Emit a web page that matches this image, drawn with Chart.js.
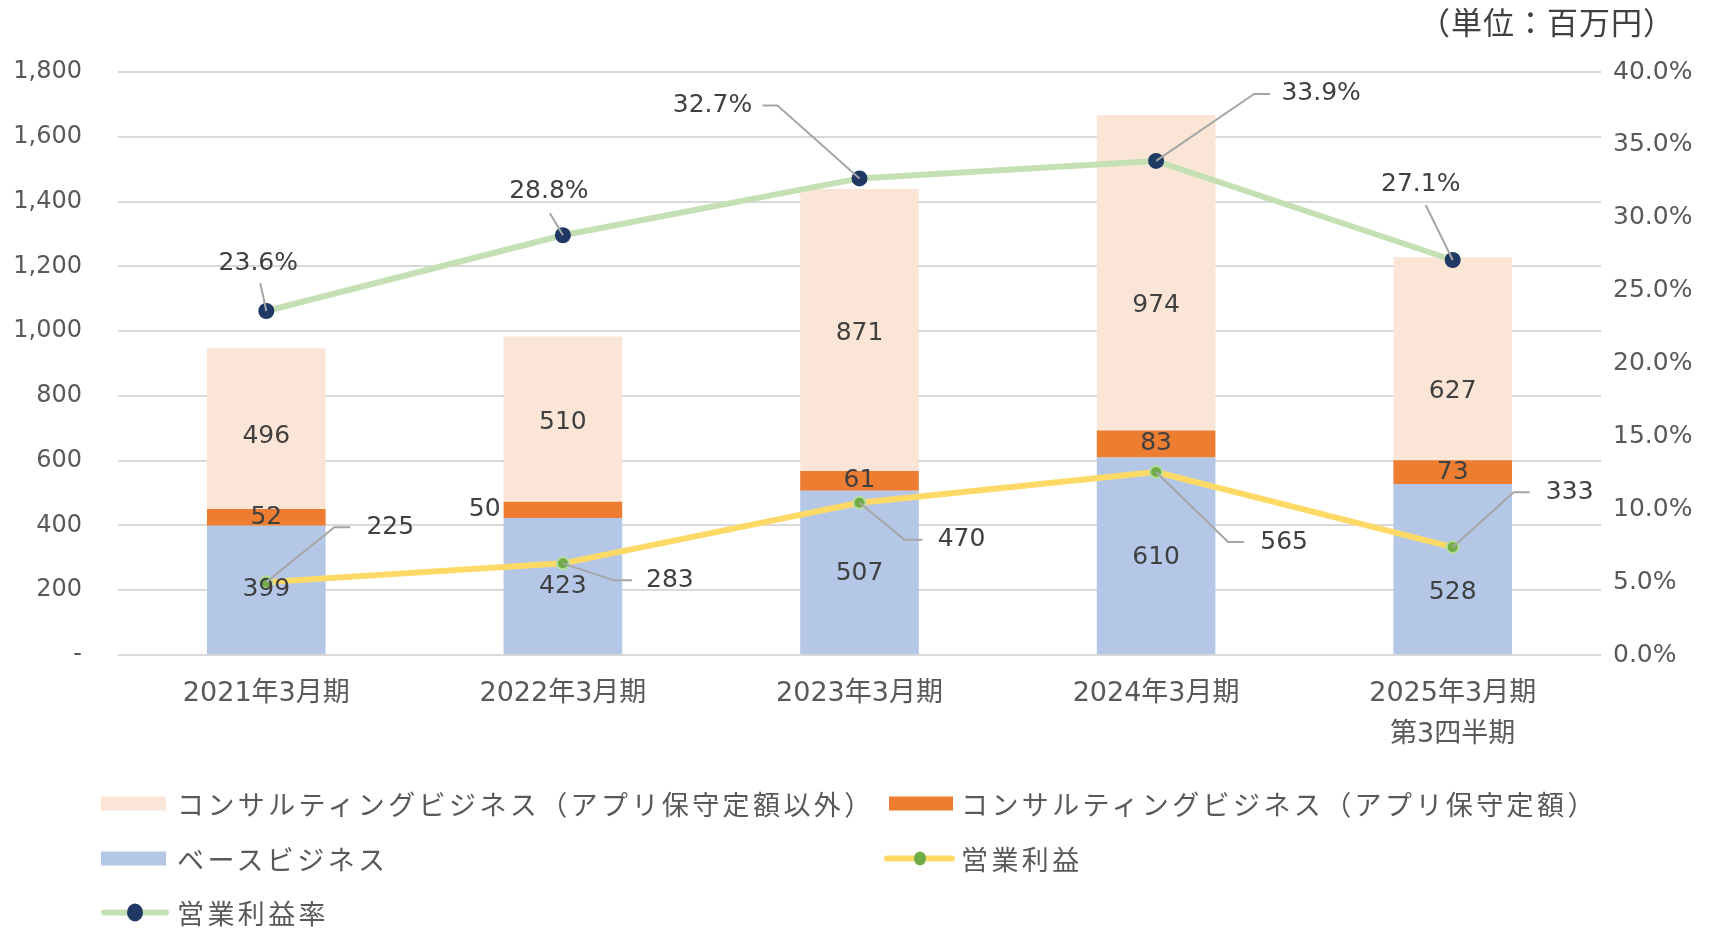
<!DOCTYPE html>
<html>
<head>
<meta charset="utf-8">
<title>売上高・営業利益の推移</title>
<script src="https://cdn.jsdelivr.net/npm/chart.js"></script>
<style>
    body {
        margin: 0;
        background: #fff;
        font-family: "Noto Sans CJK JP", sans-serif;
    }

    #wrap {
        position: relative;
        width: 1711px;
        height: 930px;
        overflow: hidden;
    }

    canvas {
        position: absolute;
        left: 0;
        top: 0;
    }

    .unit {
        position: absolute;
        right: 36px;
        top: 0;
        font-size: 31px;
        letter-spacing: 1px;
        line-height: 42px;
        color: #404040;
    }

    .legend-item {
        position: absolute;
        display: flex;
        align-items: center;
        transform: translateY(-50%);
        font-size: 27px;
        letter-spacing: 3.4px;
        color: #595959;
        white-space: nowrap;
    }

    .box {
        display: inline-block;
        height: 14px;
    }

    .mk {
        position: relative;
        display: inline-block;
        height: 6px;
        border-radius: 3px;
    }

    .mk i {
        position: absolute;
        top: 50%;
        left: 50%;
        border-radius: 50%;
        transform: translate(-50%, -50%);
    }
</style>
</head>
<body>
<div id="wrap">
    <canvas id="chart" width="1711" height="930"></canvas>
    <div class="unit">（単位：百万円）</div>
    <div id="legend"></div>
</div>

<script>
    // データ（単位：百万円）
    const categories = ['2021年3月期', '2022年3月期', '2023年3月期', '2024年3月期', ['2025年3月期', '第3四半期']];
    const baseBiz = [399, 423, 507, 610, 528];
    const consultFixed = [52, 50, 61, 83, 73];
    const consultOther = [496, 510, 871, 974, 627];
    const opProfit = [225, 283, 470, 565, 333];
    const opMargin = [23.6, 28.8, 32.7, 33.9, 27.1];

    const NUM_FONT = '"DejaVu Sans", "Noto Sans CJK JP", sans-serif';
    const TEXT_COLOR = '#404040';

    // ラベル位置（点からのずれ, px）
    const marginLabelPos = [
        { label: [-8, -48], leader: [[-6, -28]] },
        { label: [-14, -44], leader: [[-13, -22]] },
        { label: [-147, -73], leader: [[-97, -73], [-82, -73]] },
        { label: [165, -67], leader: [[114, -67], [98, -67]] },
        { label: [-32, -76], leader: [[-27, -55]] }
    ];
    const profitLabelPos = [
        { label: [124, -55], leader: [[84, -55], [68, -55]] },
        { label: [107, 17], leader: [[69, 17], [51, 17]] },
        { label: [102, 37], leader: [[63, 37], [45, 37]] },
        { label: [128, 70], leader: [[88, 70], [72, 70]] },
        { label: [117, -55], leader: [[77, -55], [61, -55]] }
    ];
    // 棒ラベルの縦ずれ（px）、値が小さい棒のラベルは棒の左に出す
    const barLabelShift = {
        2: [0, 1, 1, 2, 24],
        3: [0, 0, 0, 0, 0],
        4: [8, 3, 4, 33, 33]
    };
    const fixedLabelSide = ['center', 'left', 'center', 'center', 'center'];

    const dataLabels = {
        id: 'dataLabels',
        afterDatasetsDraw(chart) {
            const ctx = chart.ctx;
            ctx.save();
            ctx.font = '25px ' + NUM_FONT;
            ctx.fillStyle = TEXT_COLOR;
            ctx.textBaseline = 'middle';

            // 積み上げ棒のラベル
            [2, 3, 4].forEach(function (di) {
                const ds = chart.data.datasets[di];
                chart.getDatasetMeta(di).data.forEach(function (bar, j) {
                    const cy = (bar.y + bar.base) / 2 + barLabelShift[di][j];
                    if (di === 3 && fixedLabelSide[j] === 'left') {
                        ctx.textAlign = 'right';
                        ctx.fillText(ds.data[j], bar.x - bar.width / 2 - 3, cy);
                    } else {
                        ctx.textAlign = 'center';
                        ctx.fillText(ds.data[j], bar.x, cy);
                    }
                });
            });

            // 折れ線のラベル（引き出し線つき）
            function lineLabels(di, pos, fmt) {
                const ds = chart.data.datasets[di];
                chart.getDatasetMeta(di).data.forEach(function (pt, j) {
                    const p = pos[j];
                    ctx.strokeStyle = '#A6A6A6';
                    ctx.lineWidth = 2;
                    ctx.beginPath();
                    p.leader.forEach(function (q, k) {
                        if (k === 0) ctx.moveTo(pt.x + q[0], pt.y + q[1]);
                        else ctx.lineTo(pt.x + q[0], pt.y + q[1]);
                    });
                    ctx.lineTo(pt.x, pt.y);
                    ctx.stroke();
                    ctx.textAlign = 'center';
                    ctx.fillText(fmt(ds.data[j]), pt.x + p.label[0], pt.y + p.label[1]);
                });
            }
            lineLabels(0, marginLabelPos, function (v) { return v.toFixed(1) + '%'; });
            lineLabels(1, profitLabelPos, function (v) { return String(v); });
            ctx.restore();
        }
    };

    const datasets = [
        {
            type: 'line',
            label: '営業利益率',
            data: opMargin,
            yAxisID: 'y1',
            stack: 'margin',
            order: 0,
            borderColor: '#C5E0B4',
            borderWidth: 6,
            pointRadius: 8,
            pointHoverRadius: 8,
            pointBackgroundColor: '#1F3864',
            pointBorderWidth: 0,
            tension: 0
        },
        {
            type: 'line',
            label: '営業利益',
            data: opProfit,
            yAxisID: 'y',
            stack: 'profit',
            order: 1,
            borderColor: '#FFD966',
            borderWidth: 6,
            pointRadius: 6,
            pointHoverRadius: 6,
            pointBackgroundColor: '#70AD47',
            pointBorderColor: '#B5DDA0',
            pointBorderWidth: 2,
            tension: 0
        },
        {
            label: 'ベースビジネス',
            data: baseBiz,
            backgroundColor: '#B4C7E7',
            stack: 'sales',
            order: 2
        },
        {
            label: 'コンサルティングビジネス（アプリ保守定額）',
            data: consultFixed,
            backgroundColor: '#ED7D31',
            stack: 'sales',
            order: 3
        },
        {
            label: 'コンサルティングビジネス（アプリ保守定額以外）',
            data: consultOther,
            backgroundColor: '#FBE5D6',
            stack: 'sales',
            order: 4
        }
    ];

    new Chart(document.getElementById('chart'), {
        type: 'bar',
        data: { labels: categories, datasets: datasets },
        options: {
            responsive: false,
            animation: false,
            layout: { padding: { top: 72, left: 0, right: 0, bottom: 175 } },
            plugins: {
                legend: { display: false },
                tooltip: { enabled: false }
            },
            datasets: {
                bar: { barPercentage: 0.4, categoryPercentage: 1 }
            },
            scales: {
                x: {
                    stacked: true,
                    grid: { display: false },
                    border: { display: false },
                    ticks: {
                        padding: 10,
                        color: '#595959',
                        maxRotation: 0,
                        autoSkip: false,
                        font: { family: NUM_FONT, size: 27, lineHeight: 1.52 }
                    },
                    afterFit: function (s) { s.height = 100; }
                },
                y: {
                    position: 'left',
                    stacked: true,
                    min: 0,
                    max: 1800,
                    grid: { color: '#D9D9D9', lineWidth: 2, drawTicks: false },
                    border: { display: false },
                    ticks: {
                        stepSize: 200,
                        padding: 36,
                        color: '#595959',
                        font: { family: NUM_FONT, size: 24 },
                        callback: function (v) { return v === 0 ? '-' : v.toLocaleString('en-US'); }
                    },
                    afterFit: function (s) { s.width = 118; }
                },
                y1: {
                    position: 'right',
                    min: 0,
                    max: 40,
                    grid: { display: false, drawTicks: false },
                    border: { display: false },
                    ticks: {
                        stepSize: 5,
                        padding: 12,
                        color: '#595959',
                        font: { family: NUM_FONT, size: 25 },
                        callback: function (v) { return v.toFixed(1) + '%'; }
                    },
                    afterFit: function (s) { s.width = 110; }
                }
            }
        },
        plugins: [dataLabels]
    });

    // 凡例（HTML）
    const legendLayout = [
        { ds: 4, left: 101, top: 803, w: 65, gap: 11 },
        { ds: 3, left: 889, top: 803, w: 64, gap: 8 },
        { ds: 2, left: 101, top: 858, w: 65, gap: 11 },
        { ds: 1, left: 884, top: 858, w: 71, gap: 6 },
        { ds: 0, left: 101, top: 912, w: 68, gap: 8 }
    ];
    const legendEl = document.getElementById('legend');
    legendLayout.forEach(function (item) {
        const ds = datasets[item.ds];
        const div = document.createElement('div');
        div.className = 'legend-item';
        div.style.left = item.left + 'px';
        div.style.top = item.top + 'px';
        let marker;
        if (ds.type === 'line') {
            const d = ds.pointRadius * 2;
            marker = '<span class="mk" style="width:' + item.w + 'px;margin-right:' + item.gap + 'px;background:' + ds.borderColor + '">' +
                '<i style="width:' + d + 'px;height:' + (d + 2) + 'px;background:' + ds.pointBackgroundColor + '"></i></span>';
        } else {
            marker = '<span class="box" style="width:' + item.w + 'px;margin-right:' + item.gap + 'px;background:' + ds.backgroundColor + '"></span>';
        }
        div.innerHTML = marker + '<span>' + ds.label + '</span>';
        legendEl.appendChild(div);
    });
</script>
</body>
</html>
